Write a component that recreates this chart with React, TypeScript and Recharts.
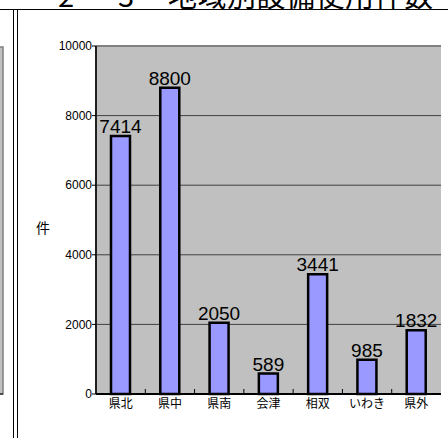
import { Bar, BarChart, CartesianGrid, LabelList, ReferenceLine, XAxis, YAxis } from "recharts"

const categories = ["県北", "県中", "県南", "会津", "相双", "いわき", "県外"]
const counts = [7414, 8800, 2050, 589, 3441, 985, 1832]
const yTicks = [0, 2000, 4000, 6000, 8000, 10000]

const data = categories.map((name, i) => ({ name, count: counts[i] }))

const W = 448
const H = 438
const LEFT = 96
const RIGHT = 7
const PLOT_W = W - LEFT - RIGHT
const NUM_FONT = "'Liberation Sans', Arial, sans-serif"
const JP_FONT = "'Noto Sans CJK JP', sans-serif"

function CategoryTick(props: any) {
  const { x, y, payload, index } = props
  const band = PLOT_W / categories.length
  return (
    <g>
      {index > 0 && (
        <line x1={x - band / 2} x2={x - band / 2} y1={y - 5} y2={y} stroke="#000" strokeWidth={1} />
      )}
      <text x={x} y={y + 14} textAnchor="middle" fontSize={12} fontFamily={JP_FONT} fill="#000">
        {payload.value}
      </text>
    </g>
  )
}

export default function App() {
  return (
    <div style={{ position: "absolute", left: 0, top: 0, width: W, height: H, background: "#fff" }}>
      <BarChart
        width={W}
        height={H}
        data={data}
        margin={{ top: 46, right: RIGHT, bottom: 0, left: 0 }}
        barSize={19}
      >
        <CartesianGrid vertical={false} fill="#c0c0c0" stroke="#404040" fillOpacity={1} />
        <YAxis
          width={LEFT}
          domain={[0, 10000]}
          ticks={yTicks}
          interval={0}
          tickSize={4}
          tickMargin={0}
          axisLine={{ stroke: "#202020", strokeWidth: 2 }}
          tickLine={{ stroke: "#000" }}
          tick={{ fill: "#000", fontSize: 12, fontFamily: NUM_FONT }}
        />
        <XAxis
          dataKey="name"
          height={44}
          interval={0}
          tickSize={0}
          tickMargin={0}
          tickLine={false}
          axisLine={{ stroke: "#000", strokeWidth: 2 }}
          tick={<CategoryTick />}
        />
        <ReferenceLine y={10000} stroke="#808080" strokeWidth={2} />
        <Bar dataKey="count" fill="#9999ff" stroke="#000" strokeWidth={2.5} isAnimationActive={false}>
          <LabelList
            dataKey="count"
            position="top"
            offset={3}
            fill="#000"
            fontSize={19}
            fontFamily={NUM_FONT}
          />
        </Bar>
      </BarChart>
      <svg
        width={W}
        height={H}
        style={{ position: "absolute", left: 0, top: 0, pointerEvents: "none" }}
      >
        <text y={6.5} fontSize={29} fontFamily={JP_FONT} fill="#000">
          <tspan x={58}>2</tspan>
          <tspan x={84}>－</tspan>
          <tspan x={118}>3</tspan>
          <tspan x={168} textLength={265} lengthAdjust="spacing">地域別設備使用件数</tspan>
        </text>
        <line x1={0} x2={W} y1={9.5} y2={9.5} stroke="#000" />
        <line x1={13.5} x2={13.5} y1={9.5} y2={H} stroke="#000" />
        <line x1={17.5} x2={17.5} y1={9.5} y2={H} stroke="#000" />
        <rect x={-3} y={47} width={6} height={347} fill="#c0c0c0" stroke="#808080" strokeWidth={1.5} />
        <line x1={0} x2={3} y1={394} y2={394} stroke="#000" />
        <text x={43} y={233} textAnchor="middle" fontSize={14} fontFamily={JP_FONT} fill="#000">
          件
        </text>
      </svg>
    </div>
  )
}
